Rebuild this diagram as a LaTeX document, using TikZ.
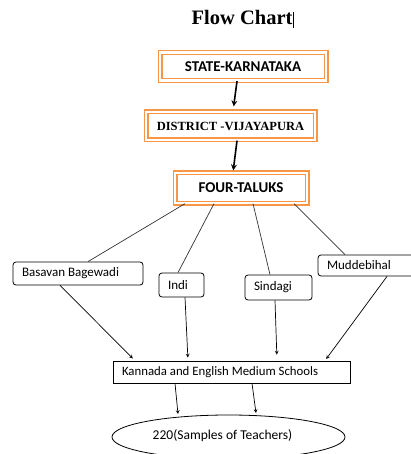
\documentclass[tikz,border=0pt]{standalone}
\usepackage{fontspec}
\setmainfont{Carlito}
\newfontfamily\titlefont{Liberation Serif}
\usepackage{xcolor}
\usetikzlibrary{shapes,arrows,positioning,calc}
\definecolor{boxorange}{RGB}{247, 150, 70}

\begin{document}
\begin{tikzpicture}[
    x=1pt, y=-1pt,
    every node/.style={align=center, inner sep=0pt},
    level/.style={rectangle, draw=boxorange, double=white, double distance=2.4pt, line width=1.3pt, font=\bfseries\fontsize{15}{17}\selectfont},
    taluk/.style={rectangle, rounded corners=3pt, draw=black, line width=0.8pt, inner xsep=9pt, align=flush left, font=\fontsize{13}{15}\selectfont},
    school/.style={rectangle, draw=black, line width=0.8pt, inner xsep=9pt, font=\fontsize{12.8}{15}\selectfont},
    sample/.style={ellipse, draw=black, line width=0.8pt, font=\fontsize{13.5}{15}\selectfont},
    bigarrow/.style={line width=1.6pt,->,>=stealth},
    link/.style={line width=0.7pt, draw=black!80},
    arrow/.style={line width=0.7pt,->,>=stealth}
]
\useasboundingbox (0,0) rectangle (411,454);

% Title
\node (title) at (243,19) {\titlefont\bfseries\fontsize{20.5}{22}\selectfont Flow Chart\kern1pt\rule[-3pt]{0.9pt}{16pt}};

% Levels
\node[level, minimum width=166pt, minimum height=28pt] (state) at (243,66.5) {STATE-KARNATAKA};
\node[level, minimum width=169pt, minimum height=28pt, font=\titlefont\bfseries\fontsize{12.5}{14}\selectfont] (district) at (230.5,126) {DISTRICT -VIJAYAPURA};
\node[level, minimum width=132pt, minimum height=30pt] (taluks) at (241,188) {FOUR-TALUKS};

% Taluks
\node[taluk, minimum height=23pt, text width=112pt] (basavan) at (78,273.5) {Basavan Bagewadi};
\node[taluk, minimum height=24pt, text width=27pt] (indi) at (181.5,285) {Indi};
\node[taluk, minimum height=25pt, text width=49pt] (sindagi) at (278.5,287.5) {Sindagi};
\node[taluk, minimum height=21pt, text width=78pt] (muddebihal) at (366,265.5) {Muddebihal};

% Schools and samples
\node[school, minimum height=22pt, text width=219pt, align=flush left] (schools) at (231.5,372) {Kannada and English Medium Schools};
\node[sample, minimum width=233pt, minimum height=44pt] (samples) at (228.5,437) {\raisebox{5pt}{\kern-12pt 220(Samples of Teachers)}};

% Connections
\draw[bigarrow, shorten >=5pt] ($(state.south)+(-6,0)$) -- ($(district.north)+(2.5,0)$);
\draw[bigarrow, shorten >=2pt] ($(district.south)+(6.5,0)$) -- ($(taluks.north)+(-8,0)$);

\draw[link] ($(taluks.south)+(-56,0)$) -- ($(basavan.north)+(10,0)$);
\draw[link] ($(taluks.south)+(-27,0)$) -- ($(indi.north)+(-3.5,0)$);
\draw[link] ($(taluks.south)+(12,0)$) -- ($(sindagi.north)+(-8.5,0)$);
\draw[link] ($(taluks.south)+(53,0)$) -- ($(muddebihal.north)+(-21,0)$);

\draw[arrow, shorten >=3pt] ($(basavan.south)+(-18,0)$) -- ($(schools.north)+(-96.5,0)$);
\draw[arrow, shorten >=3pt] ($(indi.south)+(3.5,0)$) -- ($(schools.north)+(-43.5,0)$);
\draw[arrow, shorten >=6pt] ($(sindagi.south)+(-3.5,0)$) -- ($(schools.north)+(45.5,0)$);
\draw[arrow, shorten >=2pt] ($(muddebihal.south)+(21,0)$) -- ($(schools.north)+(93.5,0)$);

\draw[arrow] ($(schools.south)+(-56.5,0)$) -- ($(samples.center)+(-50.5,-23)$);
\draw[arrow] ($(schools.south)+(20.5,0)$) -- ($(samples.center)+(27.5,-24)$);

\end{tikzpicture}
\end{document}
